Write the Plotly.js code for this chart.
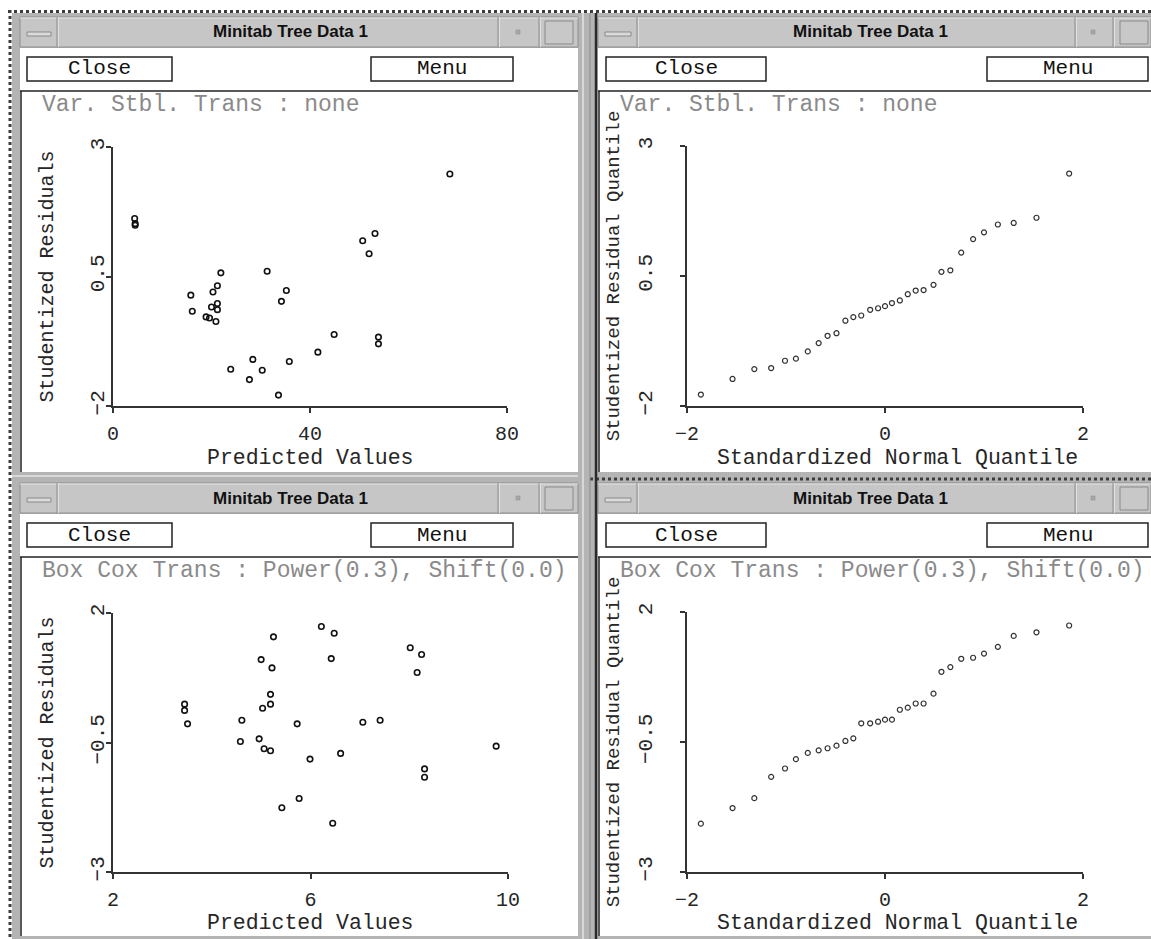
<!DOCTYPE html>
<html><head><meta charset="utf-8">
<script src="https://cdn.plot.ly/plotly-3.0.1.min.js"></script>
<style>html,body{margin:0;padding:0;background:#fff;overflow:hidden}#chart{width:1151px;height:939px}</style>
</head><body><div id="chart"></div>
<script>
// ---------- data ----------
const windowTitle = "Minitab Tree Data 1";
const transTop = "Var. Stbl. Trans : none";
const transBottom = "Box Cox Trans : Power(0.3), Shift(0.0)";
const xTitlePred = "Predicted Values";
const xTitleQ = "Standardized Normal Quantile";
const yTitleResid = "Studentized Residuals";
const yTitleQ = "Studentized Residual Quantile";

// panel 1: residuals vs predicted, no transform
const predNone = [4.4,4.5,4.5,68.4,50.7,53.2,52.0,21.9,31.3,21.2,15.8,20.3,35.2,34.2,21.2,20.0,21.2,16.1,18.9,19.6,20.9,44.9,53.9,53.9,41.6,28.4,35.8,23.9,30.3,27.7,33.6];
const residNone = [1.62,1.52,1.49,2.48,1.19,1.33,0.94,0.57,0.60,0.32,0.14,0.20,0.23,0.02,-0.02,-0.09,-0.14,-0.17,-0.28,-0.30,-0.37,-0.62,-0.67,-0.80,-0.96,-1.10,-1.14,-1.29,-1.31,-1.49,-1.79];

// panel 2: normal quantile plot, no transform
const normQuant = [-1.86,-1.54,-1.32,-1.15,-1.01,-0.90,-0.78,-0.67,-0.58,-0.49,-0.40,-0.32,-0.24,-0.15,-0.07,0.00,0.07,0.15,0.23,0.31,0.39,0.49,0.57,0.66,0.77,0.89,1.00,1.14,1.30,1.53,1.86];
const residQuantNone = [-1.78,-1.48,-1.29,-1.27,-1.13,-1.09,-0.95,-0.79,-0.65,-0.60,-0.36,-0.29,-0.26,-0.15,-0.12,-0.08,-0.02,0.03,0.15,0.22,0.23,0.33,0.58,0.61,0.95,1.21,1.34,1.49,1.52,1.62,2.47];

// panel 3: residuals vs predicted, Box Cox
const predBC = [6.22,6.48,5.25,8.02,8.25,5.00,6.42,5.22,8.16,5.19,3.45,5.19,3.45,5.03,3.51,4.61,5.73,7.06,7.41,4.58,4.96,5.06,5.19,9.76,5.99,6.61,8.31,8.31,5.77,5.42,6.45];
const residBC = [1.74,1.61,1.54,1.33,1.20,1.10,1.12,0.94,0.85,0.43,0.24,0.24,0.12,0.16,-0.14,-0.07,-0.14,-0.11,-0.07,-0.48,-0.43,-0.62,-0.66,-0.57,-0.82,-0.71,-1.01,-1.17,-1.58,-1.76,-2.06];

// panel 4: normal quantile plot, Box Cox
const residQuantBC = [-2.07,-1.77,-1.58,-1.17,-1.01,-0.83,-0.71,-0.66,-0.62,-0.57,-0.48,-0.43,-0.14,-0.14,-0.11,-0.07,-0.07,0.12,0.16,0.24,0.24,0.43,0.85,0.94,1.10,1.12,1.20,1.33,1.54,1.61,1.74];

// axis ticks
const xTicksPred1 = [0,40,80], xTickText1 = ["0","40","80"];
const yTicksTop = [-2,0.5,3], yTickTextTop = ["\u22122","0.5","3"];
const xTicksQ = [-2,0,2], xTickTextQ = ["\u22122","0","2"];
const xTicksPred2 = [2,6,10], xTickText2 = ["2","6","10"];
const yTicksBot = [-3,-0.5,2], yTickTextBot = ["\u22123","\u22120.5","2"];

// ---------- layout helpers ----------
const W = 1151, H = 939;
const px = x => x / W, py = y => 1 - y / H;
const MONO = "Liberation Mono, Courier New, monospace";
const SANS = "Liberation Sans, Arial, sans-serif";
const INK = "#262626";

const shapes = [];
function rect(x0,y0,x1,y1,fill,line,lw){
  shapes.push({type:"rect",xref:"paper",yref:"paper",x0:px(x0),x1:px(x1),y0:py(y1),y1:py(y0),
    fillcolor:fill||"rgba(0,0,0,0)",line:{color:line||"rgba(0,0,0,0)",width:lw||0},layer:"below"});
}
function seg(x0,y0,x1,y1,color,w,dash){
  shapes.push({type:"line",xref:"paper",yref:"paper",x0:px(x0),x1:px(x1),y0:py(y0),y1:py(y1),
    line:{color:color,width:w,dash:dash||"solid"},layer:"below"});
}
const annotations = [];
function txt(t,x,y,opts){
  annotations.push(Object.assign({text:t,xref:"paper",yref:"paper",x:px(x),y:py(y),showarrow:false,
    xanchor:"center",yanchor:"middle",font:{family:MONO,size:22,color:INK}},opts||{}));
}

// overall frame
rect(12,13,W,H,"#b4b4b4");
seg(8,11.5,W,11.5,"#3c3c3c",3,"dot");
seg(10,10,10,H,"#3c3c3c",3,"dot");
seg(590,479,W,479,"#3c3c3c",3,"dot");

function windowChrome(cx0,cx1,top,bottom,titleX,closeBox,menuBox,minBox,dotX,sepA,sepB,sqBox,transText){
  rect(cx0,top,cx1,top+30,"#c6c6c6","#8e8e8e",1);
  seg(cx0,top+1,cx1,top+1,"#e4e4e4",1);
  [minBox[1],sepA,sepB].forEach(x=>{seg(x,top,x,top+30,"#8e8e8e",1);seg(x+1.5,top,x+1.5,top+30,"#e0e0e0",1);});
  rect(minBox[0]+7,top+15,minBox[1]-6,top+19,"#dadada","#8a8a8a",1);
  rect(dotX-2,top+13,dotX+2,top+17,"#a8a8a8","#8a8a8a",0.5);
  rect(sqBox[0],top+4,sqBox[1],top+27,"#c8c8c8","#8a8a8a",1);
  rect(cx0,top+31,cx1,bottom,"#ffffff");
  rect(closeBox[0],top+40,closeBox[1],top+64,"rgba(0,0,0,0)","#222",1.5);
  rect(menuBox[0],top+40,menuBox[1],top+64,"rgba(0,0,0,0)","#222",1.5);
  seg(cx0,top+74,cx1,top+74,"#222",1.5);
  seg(cx0+1,top+74,cx0+1,bottom,"#222",1.5);
  txt(windowTitle,titleX,top+15,{font:{family:SANS,size:17,color:"#111",weight:"bold"}});
  txt("Close",(closeBox[0]+closeBox[1])/2,top+52,{font:{family:MONO,size:21,color:"#111"}});
  txt("Menu",(menuBox[0]+menuBox[1])/2,top+52,{font:{family:MONO,size:21,color:"#111"}});
  txt(transText,cx0+20,top+88,{xanchor:"left",font:{family:MONO,size:23,color:"#8a8a8a"}});
}
windowChrome(20,578,17,472,290,[27,172],[371,513],[20,57],518,498,539,[545,573],transTop);
windowChrome(598,W,17,472,870,[606,766],[987,1148],[598,637],1093,1075,1113,[1120,1148],transTop);
windowChrome(20,578,483,936,290,[27,172],[371,513],[20,57],518,498,539,[545,573],transBottom);
windowChrome(598,W,483,936,870,[606,766],[987,1148],[598,637],1093,1075,1113,[1120,1148],transBottom);
seg(583,13,583,H,"#d8d8d8",2);
seg(590,13,590,H,"#8c8c8c",1);
seg(596,13,596,H,"#2a2a2a",2.5);
seg(12,476,578,476,"#d8d8d8",2);

// x-axis titles (placed under each panel)
txt(xTitlePred,310,458,{font:{family:MONO,size:21.5,color:INK}});
txt(xTitleQ,897,458,{font:{family:MONO,size:21.5,color:INK}});
txt(xTitlePred,310,923,{font:{family:MONO,size:21.5,color:INK}});
txt(xTitleQ,897,923,{font:{family:MONO,size:21.5,color:INK}});

// ---------- plot traces ----------
const mk = {symbol:"circle-open",size:5.5,color:"#111",line:{width:1.6,color:"#111"}};
const mkq = {symbol:"circle-open",size:5,color:"#333",line:{width:1.2,color:"#333"}};
const traces = [
  {x:predNone,y:residNone,mode:"markers",type:"scatter",marker:mk,xaxis:"x",yaxis:"y"},
  {x:normQuant,y:residQuantNone,mode:"markers",type:"scatter",marker:mkq,xaxis:"x2",yaxis:"y2"},
  {x:predBC,y:residBC,mode:"markers",type:"scatter",marker:mk,xaxis:"x3",yaxis:"y3"},
  {x:normQuant,y:residQuantBC,mode:"markers",type:"scatter",marker:mkq,xaxis:"x4",yaxis:"y4"}
];

function xax(d,range,tv,tt,anchor){
  return {domain:[px(d[0]),px(d[1])],range:range,anchor:anchor,showline:true,linecolor:"#333",linewidth:2,
    ticks:"outside",ticklen:5,tickwidth:2,tickcolor:"#333",tickvals:tv,ticktext:tt,showgrid:false,zeroline:false,
    tickfont:{family:MONO,size:20,color:INK},ticklabelstandoff:3,fixedrange:true};
}
function yax(d,range,tv,tt,title,anchor,lstand,tstand,tsize){
  return {domain:[py(d[1]),py(d[0])],range:range,anchor:anchor,showline:true,linecolor:"#333",linewidth:2,
    ticks:"outside",ticklen:5,tickwidth:2,tickcolor:"#333",tickvals:tv,ticktext:tt,showgrid:false,zeroline:false,
    tickangle:-90,tickfont:{family:MONO,size:21,color:INK},ticklabelstandoff:lstand,fixedrange:true,
    title:{text:title,font:{family:MONO,size:tsize,color:INK},standoff:tstand}};
}

const layout = {
  width:W,height:H,margin:{l:0,r:0,t:0,b:0},paper_bgcolor:"#ffffff",plot_bgcolor:"rgba(0,0,0,0)",
  showlegend:false,shapes:shapes,annotations:annotations,
  xaxis: xax([113,507],[0,80],xTicksPred1,xTickText1,"y"),
  yaxis: yax([147,406],[-2,3],yTicksTop,yTickTextTop,yTitleResid,"x",-6,28,20),
  xaxis2:xax([687,1083],[-2,2],xTicksQ,xTickTextQ,"y2"),
  yaxis2:yax([146,406],[-2,3],yTicksTop,yTickTextTop,yTitleQ,"x2",20,10,19),
  xaxis3:xax([113,508],[2,10],xTicksPred2,xTickText2,"y3"),
  yaxis3:yax([613,872],[-3,2],yTicksBot,yTickTextBot,yTitleResid,"x3",-6,28,20),
  xaxis4:xax([687,1083],[-2,2],xTicksQ,xTickTextQ,"y4"),
  yaxis4:yax([612,872],[-3,2],yTicksBot,yTickTextBot,yTitleQ,"x4",20,10,19)
};
Plotly.newPlot("chart",traces,layout,{displayModeBar:false,staticPlot:true});
</script></body></html>
